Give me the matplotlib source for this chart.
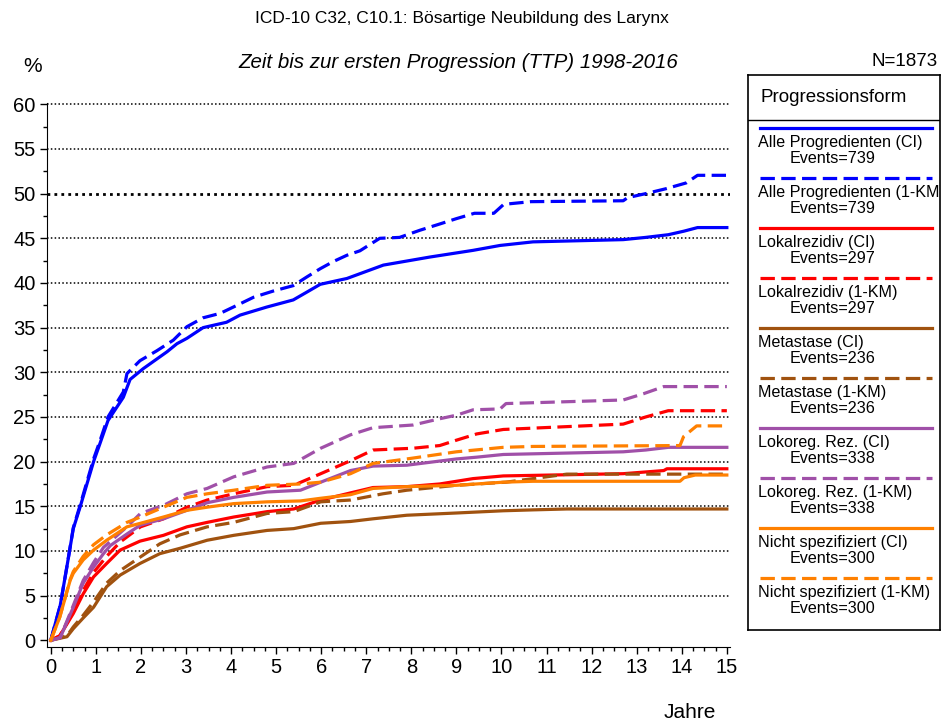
import numpy as np
import matplotlib
matplotlib.use("Agg")
import matplotlib.pyplot as plt
from matplotlib.ticker import MultipleLocator

plt.rcParams['font.family'] = ['Liberation Sans', 'DejaVu Sans']

# values (years, percent)
alle_ci_x = [0, 0.21, 0.36, 0.5, 0.65, 0.95, 1.09, 1.27, 1.61, 1.76, 2.05, 2.58, 2.8, 3.02, 3.38, 3.9, 4.2, 4.79,
             5.38, 5.69, 5.98, 6.57, 7.38, 8.41, 9.37, 9.97, 10.7, 12.7, 13.2, 13.7, 14.05, 14.35, 15.0]
alle_ci_y = [0, 3.9, 8.3, 12.5, 14.9, 20.0, 22.0, 24.6, 27.2, 29.2, 30.4, 32.3, 33.2, 33.8, 35.0, 35.6, 36.4, 37.3,
             38.1, 39.0, 39.85, 40.5, 42.0, 42.9, 43.65, 44.2, 44.6, 44.85, 45.1, 45.4, 45.8, 46.2, 46.2]
alle_km_x = [0, 0.21, 0.36, 0.5, 0.65, 0.95, 1.09, 1.27, 1.61, 1.69, 1.98, 2.35, 2.72, 3.02, 3.38, 3.76, 4.05, 4.5,
             4.94, 5.38, 5.69, 5.98, 6.27, 6.57, 6.86, 7.3, 7.74, 8.19, 8.63, 9.0, 9.4, 9.83, 10.05, 10.65, 12.7,
             12.8, 13.2, 13.65, 14.1, 14.35, 15.0]
alle_km_y = [0, 3.9, 8.3, 12.6, 15.1, 20.3, 22.3, 25.0, 27.8, 29.85, 31.3, 32.4, 33.6, 35.1, 36.1, 36.6, 37.3, 38.4,
             39.1, 39.7, 40.7, 41.6, 42.4, 43.1, 43.6, 45.0, 45.1, 45.9, 46.6, 47.2, 47.8, 47.8, 48.8, 49.1, 49.2,
             49.55, 50.0, 50.55, 51.2, 52.05, 52.05]

lokal_ci_x = [0, 0.2, 0.5, 0.72, 0.95, 1.24, 1.54, 1.98, 2.5, 3.02, 3.47, 4.06, 4.8, 5.39, 5.99, 6.65, 7.15, 7.9,
              8.63, 9.37, 10.04, 12.7, 13.6, 13.67, 15.0]
lokal_ci_y = [0, 0.5, 3.0, 5.2, 7.1, 8.6, 10.1, 11.1, 11.75, 12.7, 13.2, 13.8, 14.4, 14.7, 15.7, 16.5, 17.1, 17.2,
              17.5, 18.1, 18.4, 18.65, 19.0, 19.2, 19.2]
lokal_km_x = [0, 0.2, 0.5, 0.72, 0.95, 1.24, 1.54, 1.99, 2.5, 3.02, 3.47, 4.06, 4.8, 5.39, 5.99, 6.65, 7.15, 8.04,
              8.63, 9.0, 9.45, 10.04, 12.7, 13.2, 13.7, 15.0]
lokal_km_y = [0, 0.5, 3.2, 5.6, 7.6, 9.4, 11.0, 12.7, 13.6, 14.9, 15.7, 16.4, 17.2, 17.35, 18.65, 20.1, 21.3, 21.5,
              21.8, 22.4, 23.1, 23.6, 24.2, 25.0, 25.7, 25.7]

meta_ci_x = [0, 0.36, 0.5, 0.72, 0.95, 1.24, 1.54, 1.98, 2.42, 2.87, 3.47, 4.06, 4.8, 5.39, 5.99, 6.65, 7.15, 7.9,
             9.0, 10.04, 10.7, 11.45, 15.0]
meta_ci_y = [0, 0.4, 1.3, 2.5, 3.7, 6.0, 7.3, 8.6, 9.7, 10.3, 11.2, 11.75, 12.3, 12.5, 13.1, 13.3, 13.6, 14.0,
             14.25, 14.5, 14.6, 14.7, 14.7]
meta_km_x = [0, 0.36, 0.5, 0.72, 0.95, 1.24, 1.54, 1.98, 2.42, 2.87, 3.47, 4.06, 4.8, 5.39, 5.99, 6.65, 7.37, 7.9,
             9.0, 10.1, 10.7, 11.45, 15.0]
meta_km_y = [0, 0.5, 1.5, 2.8, 4.3, 6.4, 7.8, 9.3, 10.8, 11.8, 12.7, 13.2, 14.2, 14.4, 15.5, 15.7, 16.4, 16.8,
             17.35, 17.7, 18.1, 18.6, 18.6]

lokoreg_ci_x = [0, 0.21, 0.5, 0.72, 0.95, 1.17, 1.32, 1.69, 1.99, 2.5, 3.02, 3.47, 4.06, 4.8, 5.54, 5.99, 6.65,
                7.15, 7.9, 9.0, 9.45, 10.04, 12.7, 13.2, 13.7, 15.0]
lokoreg_ci_y = [0, 0.3, 3.7, 6.4, 8.2, 9.7, 10.6, 11.9, 12.9, 13.6, 14.55, 15.4, 16.0, 16.6, 16.8, 17.7, 19.0,
                19.5, 19.6, 20.3, 20.5, 20.8, 21.1, 21.3, 21.6, 21.6]
lokoreg_km_x = [0, 0.21, 0.5, 0.72, 0.95, 1.17, 1.69, 1.99, 2.5, 3.02, 3.47, 4.06, 4.8, 5.39, 5.99, 6.65, 7.15, 8.04,
                8.63, 9.0, 9.37, 9.97, 10.1, 12.7, 13.15, 13.6, 15.0]
lokoreg_km_y = [0, 0.3, 3.9, 6.7, 8.7, 10.4, 12.7, 14.2, 15.1, 16.4, 17.0, 18.3, 19.4, 19.8, 21.5, 23.0, 23.8, 24.1,
                24.8, 25.2, 25.8, 25.9, 26.5, 26.9, 27.6, 28.4, 28.4]

nicht_ci_x = [0, 0.2, 0.43, 0.5, 0.72, 0.95, 1.24, 1.69, 1.99, 2.5, 3.02, 3.47, 4.06, 4.8, 5.54, 5.99, 6.65, 7.15,
              7.9, 9.0, 10.04, 10.7, 13.96, 14.05, 14.3, 15.0]
nicht_ci_y = [0, 2.6, 6.7, 7.5, 9.0, 10.1, 11.2, 12.7, 13.1, 13.8, 14.55, 14.9, 15.3, 15.5, 15.6, 15.9, 16.3, 17.0,
              17.2, 17.35, 17.7, 17.8, 17.8, 18.2, 18.5, 18.5]
nicht_km_x = [0, 0.2, 0.43, 0.5, 0.72, 0.95, 1.24, 1.69, 1.99, 2.5, 3.02, 3.47, 4.06, 4.8, 5.54, 5.99, 6.65, 7.15,
              7.9, 9.0, 10.04, 10.7, 13.96, 14.04, 14.33, 15.0]
nicht_km_y = [0, 2.6, 6.8, 7.7, 9.4, 10.7, 11.8, 13.2, 13.8, 14.9, 16.0, 16.4, 16.8, 17.35, 17.5, 17.7, 18.65, 19.8,
              20.3, 21.1, 21.6, 21.7, 21.8, 22.8, 24.0, 24.0]

labels = ["Alle Progredienten (CI)", "Alle Progredienten (1-KM)", "Lokalrezidiv (CI)", "Lokalrezidiv (1-KM)",
          "Metastase (CI)", "Metastase (1-KM)", "Lokoreg. Rez. (CI)", "Lokoreg. Rez. (1-KM)",
          "Nicht spezifiziert (CI)", "Nicht spezifiziert (1-KM)"]
events = [739, 739, 297, 297, 236, 236, 338, 338, 300, 300]

series = [(alle_ci_x, alle_ci_y), (alle_km_x, alle_km_y), (lokal_ci_x, lokal_ci_y), (lokal_km_x, lokal_km_y),
          (meta_ci_x, meta_ci_y), (meta_km_x, meta_km_y), (lokoreg_ci_x, lokoreg_ci_y),
          (lokoreg_km_x, lokoreg_km_y), (nicht_ci_x, nicht_ci_y), (nicht_km_x, nicht_km_y)]
colors = ["#0000FF", "#0000FF", "#FF0000", "#FF0000", "#A0520F", "#A0520F",
          "#A050A8", "#A050A8", "#FF8000", "#FF8000"]
dashes = (4.5, 2)

W, H = 942, 728
fig = plt.figure(figsize=(W / 100, H / 100), dpi=100)
ax = fig.add_axes([46.7 / W, 1 - 647 / H, 683.3 / W, 544.5 / H])

for (xs, ys), c, i in zip(series, colors, range(10)):
    ln, = ax.plot(xs, ys, color=c, lw=2.3, solid_joinstyle='round', zorder=3)
    if i % 2 == 1:
        ln.set_dashes(dashes)

ax.set_xlim(-0.09, 15.07)
ax.set_ylim(-0.75, 60.2)
for v in range(5, 61, 5):
    ax.axhline(v, color='black', ls=(0, (1, 1.5)), lw=2.0 if v == 50 else 1.1, zorder=1)

ax.xaxis.set_major_locator(MultipleLocator(1))
ax.xaxis.set_minor_locator(MultipleLocator(0.25))
ax.yaxis.set_major_locator(MultipleLocator(5))
ax.yaxis.set_minor_locator(MultipleLocator(2.5))
ax.tick_params(which='major', labelsize=14.5, length=5, width=1, direction='out', pad=3)
ax.tick_params(which='minor', length=3, width=1, direction='out')
ax.spines['top'].set_visible(False)
ax.spines['right'].set_visible(False)

fig.text(462 / W, 1 - 18 / H, "ICD-10 C32, C10.1: Bösartige Neubildung des Larynx", ha='center', va='center',
         fontsize=12.5)
fig.text(458 / W, 1 - 62 / H, "Zeit bis zur ersten Progression (TTP) 1998-2016", ha='center', va='center',
         fontsize=14.8, style='italic')
fig.text(33 / W, 1 - 66 / H, "%", ha='center', va='center', fontsize=15)
fig.text(905 / W, 1 - 62 / H, "N=1873", ha='center', va='center', fontsize=13.5)
fig.text(690 / W, 1 - 713 / H, "Jahre", ha='center', va='center', fontsize=15)

# legend box in pixel-like coordinates
lx0, ly0, lx1, ly1 = 748, 75, 940, 630
lg = fig.add_axes([lx0 / W, 1 - ly1 / H, (lx1 - lx0) / W, (ly1 - ly0) / H])
lg.set_xlim(0, lx1 - lx0)
lg.set_ylim(ly1 - ly0, 0)
lg.set_xticks([])
lg.set_yticks([])
for s in lg.spines.values():
    s.set_linewidth(1.2)
lg.text(12, 23, "Progressionsform", fontsize=13.5, va='center')
lg.axhline(45, color='black', lw=1)
for i in range(10):
    yy = 53 + 50 * i
    ln, = lg.plot([12, 184], [yy, yy], color=colors[i], lw=2.3)
    if i % 2 == 1:
        ln.set_dashes(dashes)
    lg.text(10, yy + 15, labels[i], fontsize=11.6, va='center', clip_on=True)
    lg.text(42, yy + 30.5, "Events=%d" % events[i], fontsize=11.6, va='center', clip_on=True)

fig.savefig("out.png", dpi=100)
